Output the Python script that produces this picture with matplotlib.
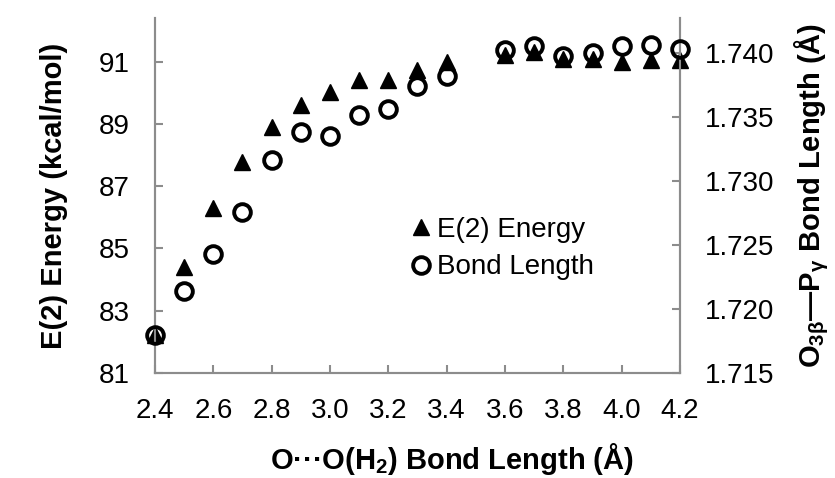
import matplotlib
matplotlib.use("Agg")
import matplotlib.pyplot as plt

plt.rcParams['font.family'] = ['Liberation Sans', 'DejaVu Sans']
plt.rcParams['mathtext.fontset'] = 'custom'
plt.rcParams['mathtext.rm'] = 'Liberation Sans'
plt.rcParams['mathtext.bf'] = 'Liberation Sans:bold'

# O...O(H2) distance (A)
dist = [2.4, 2.5, 2.6, 2.7, 2.8, 2.9, 3.0, 3.1, 3.2, 3.3, 3.4,
        3.6, 3.7, 3.8, 3.9, 4.0, 4.1, 4.2]
# E(2) energy, kcal/mol
energy = [82.22, 84.41, 86.29, 87.78, 88.91, 89.60, 90.03, 90.41, 90.41, 90.73, 91.00,
          91.21, 91.31, 91.07, 91.07, 91.00, 91.05, 91.05]
# O3b-Pg bond length (A)
bond = [1.7180, 1.7214, 1.7243, 1.7276, 1.7316, 1.7338, 1.7335, 1.7351, 1.7356, 1.7374, 1.7382,
        1.7402, 1.7405, 1.7397, 1.7400, 1.7405, 1.7406, 1.7403]

xticks = [2.4, 2.6, 2.8, 3.0, 3.2, 3.4, 3.6, 3.8, 4.0, 4.2]
yticks_left = [81, 83, 85, 87, 89, 91]
yticks_right = [1.715, 1.720, 1.725, 1.730, 1.735, 1.740]

spine_col = '#8c8c8c'

fig = plt.figure(figsize=(8.35, 4.78), dpi=100)
ax = fig.add_axes([0.1856, 0.2197, 0.6288, 0.7426])
ax2 = ax.twinx()

l1, = ax.plot(dist, energy, linestyle='none', marker='^', color='black',
              markersize=12, label='E(2) Energy', clip_on=False, zorder=3)
l2, = ax2.plot(dist, bond, linestyle='none', marker='o', markerfacecolor='none',
               markeredgecolor='black', markeredgewidth=2.8, markersize=12,
               label='Bond Length', clip_on=False, zorder=3)

ax.set_xlim(2.4, 4.2)
ax.set_ylim(81, 92.4)
ax2.set_ylim(1.715, 1.7427)
ax.set_xticks(xticks)
ax.set_xticklabels(['%.1f' % v for v in xticks])
ax.set_yticks(yticks_left)
ax2.set_yticks(yticks_right)
ax2.set_yticklabels(['%.3f' % v for v in yticks_right])

for a in (ax, ax2):
    a.spines['top'].set_visible(False)
    for s in ('left', 'right', 'bottom'):
        a.spines[s].set_color(spine_col)
        a.spines[s].set_linewidth(1.5)
    a.tick_params(direction='in', length=6, width=1.5, color=spine_col,
                  labelsize=20, pad=18)

ax.set_xlabel('O\u00b7\u00b7\u00b7O(H$_{\\mathbf{2}}$) Bond Length (Å)', fontsize=21,
              fontweight='bold', labelpad=12)
ax.xaxis.label.set_x(0.566)
ax.set_ylabel('E(2) Energy (kcal/mol)', fontsize=21, fontweight='bold', labelpad=22)
ax2.set_ylabel(r'O$_{\mathbf{3β}}$—P$_{\mathbf{γ}}$ Bond Length (Å)', fontsize=21,
               fontweight='bold', labelpad=13)

leg = ax.legend(handles=[l1, l2], loc='upper left', bbox_to_anchor=(0.49, 0.44),
                frameon=False, fontsize=20, handlelength=0.6, handletextpad=0.3,
                labelspacing=0.42, borderaxespad=0, borderpad=0)

fig.savefig('out.png', dpi=100)
